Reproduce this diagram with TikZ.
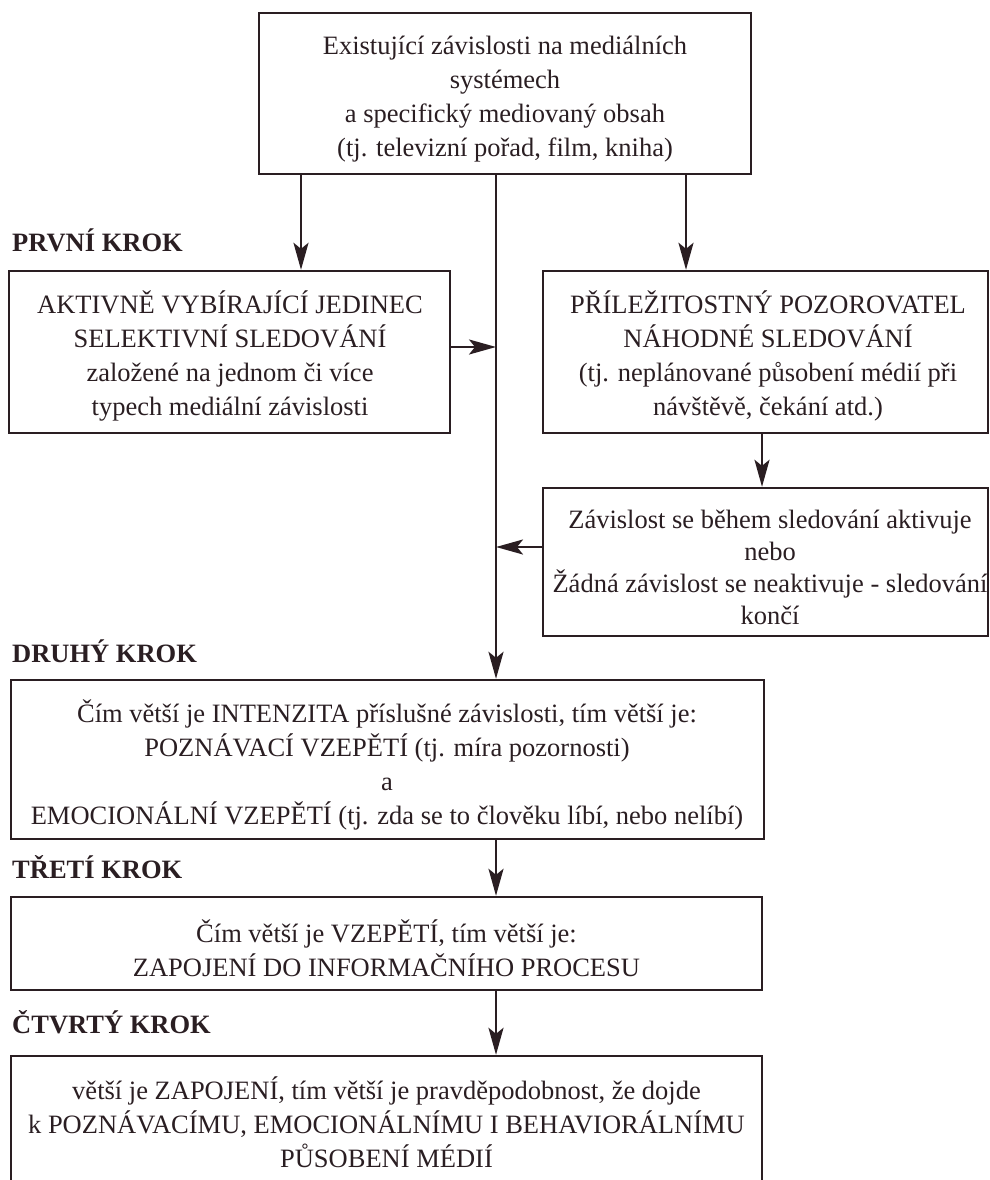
\documentclass[tikz,border=0pt]{standalone}
\usepackage{fontspec}
\setmainfont{Liberation Serif}
\usetikzlibrary{arrows.meta}
\definecolor{ink}{HTML}{2A1E22}
\begin{document}
\begin{tikzpicture}[x=1pt,y=-1pt,
  box/.style={draw=ink, line width=2.4pt, inner sep=0pt},
  txt/.style={inner sep=0pt, align=center, text=ink,
    font=\fontsize{26.5}{34}\selectfont},
  steplabel/.style={anchor=base west, inner sep=0pt, text=ink,
    font=\fontsize{26.5}{30}\selectfont\bfseries},
  arr/.style={draw=ink, line width=2.4pt, -{Stealth[length=27pt,width=15pt,inset=6pt]}}]
\useasboundingbox (0,0) rectangle (990,1180);

% boxes
\node[box, minimum width=492pt, minimum height=161pt] (top) at (505,93.5) {};
\node[box, minimum width=441pt, minimum height=162pt] (act) at (229.5,352) {};
\node[box, minimum width=445pt, minimum height=162pt] (occ) at (765.5,352) {};
\node[box, minimum width=445pt, minimum height=148pt] (dep) at (765.5,562) {};
\node[box, minimum width=753pt, minimum height=159pt] (second) at (387.5,759.5) {};
\node[box, minimum width=751pt, minimum height=93pt] (third) at (386.5,943.5) {};
\node[box, minimum width=751pt, minimum height=132pt] (fourth) at (386.5,1122) {};

% texts
\node[txt] (topt) at (505,99)
  {Existující závislosti na mediálních\\ systémech\\ a specifický mediovaný obsah\\ (tj. televizní pořad, film, kniha)};
\node[txt] (actt) at (230,356)
  {AKTIVNĚ VYBÍRAJÍCÍ JEDINEC\\ SELEKTIVNÍ SLEDOVÁNÍ\\ založené na jednom či více\\ typech mediální závislosti};
\node[txt] (occt) at (768,356)
  {PŘÍLEŽITOSTNÝ POZOROVATEL\\ NÁHODNÉ SLEDOVÁNÍ\\ (tj. neplánované působení médií při\\ návštěvě, čekání atd.)};
\node[txt, font=\fontsize{26.5}{32}\selectfont] (dept) at (770,567)
  {Závislost se během sledování aktivuje\\ nebo\\ Žádná závislost se neaktivuje - sledování\\ končí};
\node[txt] (secondt) at (387,765)
  {Čím větší je INTENZITA příslušné závislosti, tím větší je:\\ POZNÁVACÍ VZEPĚTÍ (tj. míra pozornosti)\\ a\\ EMOCIONÁLNÍ VZEPĚTÍ (tj. zda se to člověku líbí, nebo nelíbí)};
\node[txt] (thirdt) at (386.5,948)
  {Čím větší je VZEPĚTÍ, tím větší je:\\ ZAPOJENÍ DO INFORMAČNÍHO PROCESU};
\node[txt] (fourtht) at (386.5,1122)
  {větší je ZAPOJENÍ, tím větší je pravděpodobnost, že dojde\\ k POZNÁVACÍMU, EMOCIONÁLNÍMU I BEHAVIORÁLNÍMU\\ PŮSOBENÍ MÉDIÍ};

% step labels
\node[steplabel] (l1) at (12,251) {PRVNÍ KROK};
\node[steplabel] (l2) at (12,662) {DRUHÝ KROK};
\node[steplabel] (l3) at (12,878) {TŘETÍ KROK};
\node[steplabel] (l4) at (12,1033) {ČTVRTÝ KROK};

% guide coordinates
\coordinate (xa) at (301,0);
\coordinate (xo) at (686,0);
\coordinate (trunk) at (496,0);
\coordinate (xd) at (762,0);
\coordinate (ya) at (0,347);
\coordinate (yd) at (0,547);

\draw[arr] (top.south -| xa) -- (act.north -| xa);
\draw[arr] (top.south -| xo) -- (occ.north -| xo);
\draw[arr] (top.south -| trunk) -- (second.north -| trunk);
\draw[arr] (act.east |- ya) -- (trunk |- ya);
\draw[arr] (occ.south -| xd) -- (dep.north -| xd);
\draw[arr] (dep.west |- yd) -- (trunk |- yd);
\draw[arr] (second.south -| trunk) -- (third.north -| trunk);
\draw[arr] (third.south -| trunk) -- (fourth.north -| trunk);
\end{tikzpicture}
\end{document}
